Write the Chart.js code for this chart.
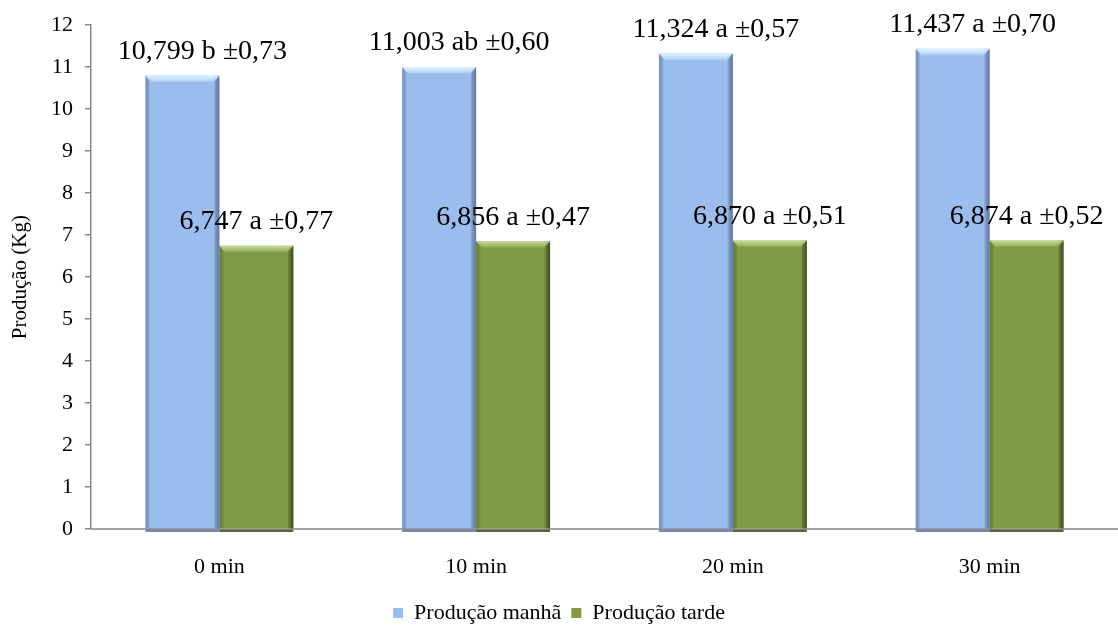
<!DOCTYPE html>
<html>
<head>
<meta charset="utf-8">
<script src="https://cdn.jsdelivr.net/npm/chart.js@4"></script>
<style>
html,body{margin:0;padding:0;background:#fff;}
#wrap{width:1118px;height:634px;position:relative;}
</style>
</head>
<body>
<div id="wrap"><canvas id="c"></canvas></div>
<script>
const categories = ["0 min", "10 min", "20 min", "30 min"];
const producaoManha = [10.799, 11.003, 11.324, 11.437];
const producaoTarde = [6.747, 6.856, 6.870, 6.874];
const labelsManha = ["10,799 b ±0,73", "11,003 ab ±0,60", "11,324 a ±0,57", "11,437 a ±0,70"];
const labelsTarde = ["6,747 a ±0,77", "6,856 a ±0,47", "6,870 a ±0,51", "6,874 a ±0,52"];
const seriesNames = ["Produção manhã", "Produção tarde"];
const yTicks = [0,1,2,3,4,5,6,7,8,9,10,11,12];

const SERIF = "'Liberation Serif', 'Times New Roman', serif";
const AXIS = "#868686";

const bevelPlugin = {
  id: 'bevel',
  afterDatasetsDraw(chart) {
    const ctx = chart.ctx;
    const base = chart.scales.y.getPixelForValue(0);
    chart.data.datasets.forEach((ds, di) => {
      const meta = chart.getDatasetMeta(di);
      meta.data.forEach((el, i) => {
        const x0 = el.x - el.width / 2, x1 = el.x + el.width / 2, y0 = el.y;
        ctx.save();
        ctx.fillStyle = di === 0 ? '#6f8cbc' : '#56692a';
        ctx.fillRect(x0, base, x1 - x0, 3);
        let g = ctx.createLinearGradient(x0, 0, x0 + 5, 0);
        g.addColorStop(0, di === 0 ? 'rgba(70,100,150,0.45)' : 'rgba(60,80,25,0.35)');
        g.addColorStop(1, 'rgba(0,0,0,0)');
        ctx.fillStyle = g;
        ctx.fillRect(x0, y0, 5, base - y0);
        g = ctx.createLinearGradient(x1 - 6, 0, x1, 0);
        g.addColorStop(0, 'rgba(0,0,0,0)');
        g.addColorStop(1, di === 0 ? 'rgba(50,80,130,0.6)' : 'rgba(40,60,15,0.75)');
        ctx.fillStyle = g;
        ctx.fillRect(x1 - 6, y0, 6, base - y0);
        g = ctx.createLinearGradient(0, y0, 0, y0 + 7);
        g.addColorStop(0, di === 0 ? 'rgba(225,245,255,0.95)' : 'rgba(225,240,180,0.8)');
        g.addColorStop(0.5, di === 0 ? 'rgba(215,240,255,0.7)' : 'rgba(210,230,160,0.5)');
        g.addColorStop(1, 'rgba(255,255,255,0)');
        ctx.fillStyle = g;
        ctx.beginPath();
        ctx.moveTo(x0, y0); ctx.lineTo(x1, y0); ctx.lineTo(x1 - 6, y0 + 7); ctx.lineTo(x0 + 6, y0 + 7); ctx.closePath();
        ctx.fill();
        ctx.restore();
      });
    });
    ctx.save();
    ctx.strokeStyle = AXIS; ctx.lineWidth = 1.5;
    ctx.beginPath(); ctx.moveTo(chart.chartArea.left, base); ctx.lineTo(chart.chartArea.right, base); ctx.stroke();
    ctx.restore();
    ctx.save();
    ctx.font = "28px " + SERIF;
    ctx.fillStyle = "#000";
    ctx.textAlign = "center";
    ctx.textBaseline = "middle";
    const texts = [labelsManha, labelsTarde];
    chart.data.datasets.forEach((ds, di) => {
      const meta = chart.getDatasetMeta(di);
      meta.data.forEach((el, i) => {
        const dx = di === 0 ? 20 : 0;
        ctx.fillText(texts[di][i], el.x + dx, el.y - 24);
      });
    });
    ctx.restore();
  }
};

new Chart(document.getElementById('c'), {
  type: 'bar',
  data: {
    labels: categories,
    datasets: [
      { label: seriesNames[0], data: producaoManha, backgroundColor: '#9bbdee', borderWidth: 0 },
      { label: seriesNames[1], data: producaoTarde, backgroundColor: '#7f9b43', borderWidth: 0 }
    ]
  },
  options: {
    responsive: true,
    maintainAspectRatio: false,
    animation: false,
    layout: { padding: { top: 25, left: 0, right: 0, bottom: 0 } },
    datasets: { bar: { categoryPercentage: 0.576, barPercentage: 1 } },
    plugins: {
      legend: {
        position: 'bottom',
        labels: {
          font: { family: SERIF, size: 22 },
          color: '#000',
          boxWidth: 10, boxHeight: 10,
          padding: 10
        }
      },
      tooltip: { enabled: false }
    },
    scales: {
      x: {
        grid: { display: false, drawTicks: false },
        border: { display: false },
        ticks: { font: { family: SERIF, size: 22 }, color: '#000', padding: 25 },
        afterFit(s) { s.height = 63; }
      },
      y: {
        min: 0, max: 12,
        afterBuildTicks(s) { s.ticks = yTicks.map(v => ({ value: v })); },
        grid: { drawOnChartArea: false, drawTicks: true, tickLength: 6, color: AXIS, lineWidth: 1.5 },
        border: { display: true, color: AXIS, width: 1.5 },
        ticks: { font: { family: SERIF, size: 22 }, color: '#000', padding: 12 },
        title: { display: true, text: 'Produção (Kg)', font: { family: SERIF, size: 21 }, color: '#000', padding: { top: 8, bottom: 0 } },
        afterFit(s) { s.width = 91; }
      }
    }
  },
  plugins: [bevelPlugin]
});
</script>
</body>
</html>
